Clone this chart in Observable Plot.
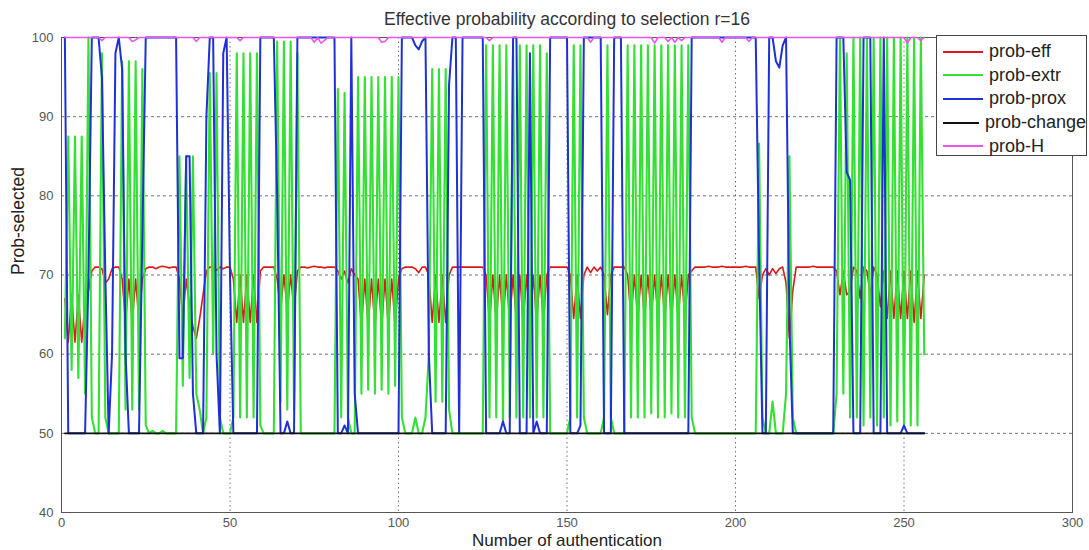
<!DOCTYPE html>
<html>
<head>
<meta charset="utf-8">
<script src="https://cdn.jsdelivr.net/npm/d3@7"></script>
<script src="https://cdn.jsdelivr.net/npm/@observablehq/plot@0.6"></script>
<style>
  html, body { margin: 0; padding: 0; background: #fff; }
  #wrap { position: relative; width: 1089px; height: 550px; font-family: "Liberation Sans", Arial, sans-serif; }
  #legend { position: absolute; left: 936px; top: 35px; width: 151px; height: 121px; border: 1px solid #444; background: #fff; box-sizing: border-box; padding-top: 4px; }
  .row { display: flex; align-items: center; height: 23.6px; }
  .sw { width: 40px; height: 0; border-top: 2px solid; margin-left: 6px; margin-right: 6px; }
  .lb { font-size: 18px; color: #222; white-space: nowrap; }
</style>
</head>
<body>
<div id="wrap"></div>
<script>
const title = "Effective probability according to selection r=16";
const xLabel = "Number of authentication";
const yLabel = "Prob-selected";
const xTicks = [0, 50, 100, 150, 200, 250, 300];
const yTicks = [40, 50, 60, 70, 80, 90, 100];
const seriesNames = ["prob-eff", "prob-extr", "prob-prox", "prob-change", "prob-H"];
const seriesColors = ["#dd1a1a", "#33e033", "#1f30d4", "#111111", "#ee55ee"];
const seriesWidths = [1.6, 2.1, 2, 1.8, 1.6];

// prob-eff (red), samples 1..256
const probEff = [
  67, 61.5, 67.5, 61.5, 67.5, 61.5, 66.5, 68, 70.5, 71,
  71, 70.8, 69, 69.5, 70.8, 71, 71, 69.5, 64, 69.5,
  64, 69.5, 64, 69.5, 70.8, 71, 71, 70.8, 71, 71.1,
  71, 70.9, 71, 71, 69.5, 64.5, 69.5, 66, 63.5, 62,
  64.5, 67.5, 70.5, 71, 71, 70.6, 71, 70.8, 71, 71,
  69.5, 64, 70, 64, 70, 64, 70, 64, 70.5, 71,
  71, 71, 71, 69.5, 65.5, 70, 65.5, 70, 65.5, 70.5,
  71, 71, 70.9, 71, 71.1, 71, 71, 70.9, 71, 71,
  71, 70.5, 69.5, 70.5, 69, 70.8, 70, 69.5, 63.5, 69.5,
  63.5, 69.5, 63.5, 69.5, 63.5, 69.5, 63.5, 69.5, 63.5, 69.5,
  70.8, 71, 71, 71, 70.8, 70.3, 71, 71, 70, 64,
  70, 64, 70, 64, 70, 71, 71, 71, 71, 71,
  71, 71, 71, 71, 71, 70, 64, 70, 64, 70,
  64, 70, 64, 70, 64, 70, 64, 70, 64, 70,
  64, 70, 64, 70, 71, 71, 71, 71, 71, 71,
  70, 64.5, 70, 64.5, 70, 71, 70.3, 71, 70.5, 71,
  70, 65, 70, 71, 71, 71, 71, 70, 64.5, 70,
  64.5, 70, 64.5, 70, 64.5, 70, 64.5, 70, 64.5, 70,
  64.5, 70, 64.5, 70, 64.5, 70, 70.5, 71, 71, 71,
  71, 71.1, 71, 71, 71, 71.1, 71, 71, 71, 71,
  71, 71, 71.1, 71, 71, 71, 67, 70, 70.8, 70,
  70.8, 70.2, 70.8, 71, 69, 62, 68, 71, 71, 71,
  71, 71, 71.1, 71, 71, 71, 71, 71, 71, 70.5,
  67.5, 70.5, 67.5, 68, 71, 70.5, 67, 71, 70.5, 67.5,
  71, 70, 66, 70.5, 64.5, 70.5, 64.5, 70.5, 64.5, 70.5,
  64.5, 70.5, 64, 70.5, 64.5, 70
];

// prob-extr (green)
const probExtr = [
  62, 87.5, 58, 87.5, 57, 87.5, 55, 100, 52, 50,
  50, 98, 52, 50, 50, 50, 50, 97, 53, 97,
  53, 97, 53, 96, 51, 50, 50.3, 50, 50, 50.3,
  50, 50, 50, 50, 85, 56, 85, 57, 85, 55,
  53, 50, 52, 95.5, 60, 95.5, 52, 50, 50, 50,
  52, 98, 52, 98, 52, 98, 52, 98, 51, 50,
  50, 50, 50, 99.5, 54, 99.5, 53, 99.5, 53, 98,
  50, 50, 50, 50, 50, 50, 50, 50, 50, 50,
  50, 93.5, 52, 93, 52, 50, 50, 95, 55, 95,
  55.5, 95, 55, 95, 55.5, 95, 55, 95, 56, 95,
  52, 50, 50, 50, 52, 50, 50, 52, 60, 96,
  54, 96, 54, 96, 53, 50, 50, 50, 50, 50,
  50, 50, 50, 50, 50, 99, 52, 99, 52, 99,
  51.5, 99, 52, 99, 52, 99, 52, 99, 52, 99,
  52, 99, 52, 98, 50, 50, 50, 50, 50, 50,
  52, 99, 52, 99, 52, 50, 50, 50, 50, 50,
  52, 99, 52, 50, 50, 50, 50, 99, 52, 99,
  52, 99, 52, 99, 52.5, 99, 52, 99, 52, 99,
  52.5, 99, 52, 99, 52, 99, 52, 50, 50, 50,
  50, 50, 50, 50, 50, 50, 50, 50, 50, 50,
  50, 50, 50, 50, 50, 50, 86.6, 52, 50, 50,
  54, 50, 50, 50, 55, 85, 52, 50, 50, 50,
  50, 50, 50, 50, 50, 50, 50, 50, 50, 55,
  100, 55, 98, 52, 100, 52, 100, 51, 100, 52,
  100, 51, 100, 52, 100, 51, 100, 51.5, 100, 51,
  100, 51, 100, 51, 100, 60
];

// prob-prox (blue)
const probProx = [
  100, 50, 50, 50, 50, 50, 50, 70, 100, 100,
  100, 95, 70, 50, 60, 98, 100, 96, 60, 50,
  50, 50, 50, 75, 100, 100, 100, 100, 100, 100,
  100, 100, 100, 100, 59.5, 59.5, 85, 85, 55, 50,
  50, 50, 90, 100, 100, 60, 50, 98, 100, 70,
  50, 50, 50, 50, 50, 50, 50, 50, 100, 100,
  100, 100, 100, 80, 50, 50, 51.5, 50, 50, 100,
  100, 100, 100, 100, 100, 100, 100, 100, 100, 100,
  100, 50, 50, 51, 50, 100, 55, 50, 50, 50,
  50, 50, 50, 50, 50, 50, 50, 50, 50, 50,
  100, 100, 100, 100, 99, 98.5, 99.5, 100, 60, 50,
  50, 50, 50, 50, 94, 100, 100, 50, 100, 100,
  100, 100, 100, 100, 100, 50, 50, 50, 50, 50,
  51.5, 50, 50, 100, 100, 50, 50, 50, 98, 50,
  51.5, 50, 50, 50, 100, 100, 100, 100, 100, 100,
  50, 50, 50, 51, 100, 100, 100, 100, 100, 100,
  50, 50, 50, 100, 100, 100, 50, 50, 50, 50,
  50, 50, 50, 50, 50, 50, 50, 50, 50, 50,
  50, 50, 50, 50, 50, 50, 100, 100, 100, 100,
  100, 100, 100, 100, 100, 100, 100, 100, 100, 100,
  100, 100, 100, 100, 100, 100, 72, 50, 50, 100,
  100, 97, 96.2, 99, 100, 64, 50, 50, 50, 50,
  50, 50, 50, 50, 50, 50, 50, 50, 50, 100,
  100, 100, 83, 82, 50, 50, 50, 100, 100, 100,
  50, 50, 50, 100, 50, 50, 50, 50, 50, 51,
  50, 50, 50, 50, 50, 50
];

// prob-change (black)
const probChange = [
  50, 50, 50, 50, 50, 50, 50, 50, 50, 50,
  50, 50, 50, 50, 50, 50, 50, 50, 50, 50,
  50, 50, 50, 50, 50, 50, 50, 50, 50, 50,
  50, 50, 50, 50, 50, 50, 50, 50, 50, 50,
  50, 50, 50, 50, 50, 50, 50, 50, 50, 50,
  50, 50, 50, 50, 50, 50, 50, 50, 50, 50,
  50, 50, 50, 50, 50, 50, 50, 50, 50, 50,
  50, 50, 50, 50, 50, 50, 50, 50, 50, 50,
  50, 50, 50, 50, 50, 50, 50, 50, 50, 50,
  50, 50, 50, 50, 50, 50, 50, 50, 50, 50,
  50, 50, 50, 50, 50, 50, 50, 50, 50, 50,
  50, 50, 50, 50, 50, 50, 50, 50, 50, 50,
  50, 50, 50, 50, 50, 50, 50, 50, 50, 50,
  50, 50, 50, 50, 50, 50, 50, 50, 50, 50,
  50, 50, 50, 50, 50, 50, 50, 50, 50, 50,
  50, 50, 50, 50, 50, 50, 50, 50, 50, 50,
  50, 50, 50, 50, 50, 50, 50, 50, 50, 50,
  50, 50, 50, 50, 50, 50, 50, 50, 50, 50,
  50, 50, 50, 50, 50, 50, 50, 50, 50, 50,
  50, 50, 50, 50, 50, 50, 50, 50, 50, 50,
  50, 50, 50, 50, 50, 50, 50, 50, 50, 50,
  50, 50, 50, 50, 50, 50, 50, 50, 50, 50,
  50, 50, 50, 50, 50, 50, 50, 50, 50, 50,
  50, 50, 50, 50, 50, 50, 50, 50, 50, 50,
  50, 50, 50, 50, 50, 50, 50, 50, 50, 50,
  50, 50, 50, 50, 50, 50
];

// prob-H (magenta)
const probH = [
  100, 100, 100, 100, 100, 100, 100, 100, 100, 100,
  100, 99.6, 100, 100, 100, 100, 100, 100, 100, 100,
  99.5, 99.7, 100, 100, 100, 100, 100, 100, 100, 100,
  100, 100, 100, 100, 100, 100, 100, 100, 100, 99.5,
  100, 100, 100, 100, 100, 100, 100, 100, 100, 100,
  100, 100, 99.6, 100, 100, 100, 100, 100, 100, 100,
  100, 100, 100, 100, 100, 100, 100, 100, 100, 100,
  100, 100, 100, 100, 99.4, 100, 99.3, 99.6, 100, 100,
  100, 100, 100, 100, 100, 100, 100, 100, 100, 100,
  100, 100, 100, 100, 99.4, 99.5, 100, 100, 100, 100,
  100, 100, 100, 100, 100, 100, 100, 100, 100, 100,
  100, 100, 100, 100, 100, 100, 100, 100, 100, 100,
  100, 100, 100, 100, 100, 100, 99.6, 100, 100, 100,
  100, 100, 100, 100, 100, 100, 100, 100, 100, 100,
  100, 100, 100, 100, 100, 100, 100, 100, 100, 100,
  100, 100, 100, 100, 100, 100, 99.4, 100, 100, 100,
  100, 100, 100, 100, 100, 100, 100, 100, 100, 100,
  100, 100, 100, 100, 100, 99.3, 100, 100, 100, 99.5,
  100, 99.4, 100, 99.6, 100, 100, 100, 100, 100, 100,
  100, 100, 100, 100, 100, 99.4, 100, 100, 100, 100,
  100, 100, 100, 99.5, 100, 100, 100, 100, 100, 100,
  100, 100, 100, 100, 100, 100, 100, 100, 100, 100,
  100, 100, 100, 100, 100, 100, 100, 100, 100, 100,
  100, 100, 100, 100, 100, 100, 100, 100, 100, 100,
  100, 100, 100, 100, 100, 100, 100, 100, 100, 100,
  99.3, 100, 100, 100, 99.6, 100
];

const seriesValues = [probEff, probExtr, probProx, probChange, probH];

const font = "'Liberation Sans', Arial, sans-serif";
const lineMarks = seriesValues.map((vals, k) =>
  Plot.lineY(vals, {x: (d, i) => i + 1, y: d => d, stroke: seriesColors[k], strokeWidth: seriesWidths[k]})
);

const chart = Plot.plot({
  width: 1089,
  height: 550,
  marginLeft: 61,
  marginRight: 17,
  marginTop: 37,
  marginBottom: 38,
  style: {fontFamily: font, background: "#fff", color: "#333", overflow: "visible"},
  x: {domain: [0, 300]},
  y: {domain: [40, 100]},
  marks: [
    Plot.gridX(xTicks, {stroke: "#444", strokeOpacity: 0.75, strokeDasharray: "1.5,3"}),
    Plot.gridY(yTicks, {stroke: "#444", strokeOpacity: 0.75, strokeDasharray: "3,3"}),
    Plot.frame({stroke: "#555"}),
    Plot.axisX(xTicks, {anchor: "bottom", tickSize: 0, tickPadding: 5, fontSize: 13, fill: "#555", label: null}),
    Plot.axisY(yTicks, {anchor: "left", tickSize: 0, tickPadding: 8, fontSize: 13, fill: "#555", label: null}),
    ...lineMarks,
    Plot.text([title], {frameAnchor: "top", dy: -18, fontSize: 17.5, fill: "#333", lineAnchor: "middle"}),
    Plot.text([xLabel], {frameAnchor: "bottom", dy: 28, fontSize: 17, fill: "#222", lineAnchor: "middle"}),
    Plot.text([yLabel], {frameAnchor: "left", dx: -43, rotate: -90, fontSize: 17.5, fill: "#222", lineAnchor: "middle"})
  ]
});

const wrap = document.getElementById("wrap");
wrap.appendChild(chart);

const legend = document.createElement("div");
legend.id = "legend";
seriesNames.forEach((name, k) => {
  const row = document.createElement("div");
  row.className = "row";
  const sw = document.createElement("div");
  sw.className = "sw";
  sw.style.borderTopColor = seriesColors[k];
  const lb = document.createElement("span");
  lb.className = "lb";
  lb.textContent = name;
  row.appendChild(sw);
  row.appendChild(lb);
  legend.appendChild(row);
});
wrap.appendChild(legend);
</script>
</body>
</html>
